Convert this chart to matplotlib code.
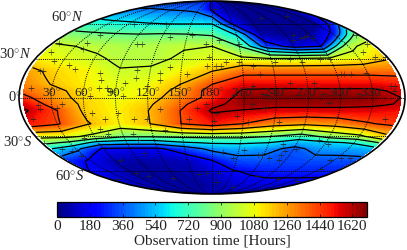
import numpy as np
import matplotlib
matplotlib.use("Agg")
import matplotlib.pyplot as plt

plt.rcParams['font.family'] = ['Liberation Serif', 'DejaVu Serif']
plt.rcParams['mathtext.fontset'] = 'custom'
plt.rcParams['mathtext.rm'] = 'Liberation Serif'
plt.rcParams['mathtext.it'] = 'Liberation Serif:italic'

lons = [4, 30, 60, 90, 120, 150, 180, 210, 240, 270, 300, 330, 356]
lats = [90, 75, 60, 50, 40, 30, 20, 10, 5, 0, -5, -10, -20, -30, -35, -40, -50, -60, -75, -90]

lat_p90 = [280, 280, 280, 280, 280, 250, 180, 60, 30, 25, 25, 30, 60]
lat_p75 = [420, 420, 410, 400, 390, 360, 180, 60, 25, 25, 25, 30, 60]
lat_p60 = [680, 650, 630, 610, 600, 600, 600, 180, 20, 20, 20, 40, 300]
lat_p50 = [860, 840, 820, 810, 820, 810, 780, 590, 70, 30, 30, 250, 850]
lat_p40 = [1040, 1000, 970, 950, 970, 990, 1000, 800, 300, 130, 200, 950, 1090]
lat_p30 = [1100, 1060, 1020, 970, 970, 1020, 1060, 1030, 1000, 1010, 1030, 1080, 1180]
lat_p20 = [1240, 1150, 1100, 1010, 1020, 1100, 1200, 1340, 1340, 1340, 1340, 1340, 1340]
lat_p10 = [1300, 1190, 1110, 1060, 1080, 1200, 1400, 1540, 1540, 1540, 1540, 1540, 1500]
lat_p05 = [1350, 1260, 1130, 1070, 1100, 1250, 1470, 1620, 1630, 1630, 1630, 1630, 1570]
lat_00 = [1450, 1280, 1150, 1080, 1120, 1300, 1450, 1680, 1695, 1695, 1695, 1680, 1600]
lat_m05 = [1550, 1340, 1170, 1090, 1170, 1350, 1560, 1660, 1650, 1650, 1650, 1630, 1590]
lat_m10 = [1620, 1440, 1170, 1100, 1200, 1400, 1620, 1590, 1550, 1550, 1550, 1550, 1520]
lat_m20 = [1500, 1420, 1210, 1100, 1200, 1400, 1500, 1400, 1280, 1240, 1280, 1380, 1440]
lat_m30 = [1050, 1050, 950, 820, 820, 840, 850, 850, 800, 700, 860, 950, 1150]
lat_m35 = [850, 760, 520, 480, 480, 580, 620, 620, 600, 500, 560, 620, 800]
lat_m40 = [600, 450, 180, 170, 170, 300, 450, 500, 460, 350, 470, 480, 520]
lat_m50 = [280, 180, 70, 60, 70, 90, 200, 330, 350, 330, 340, 340, 340]
lat_m60 = [200, 140, 50, 40, 50, 70, 120, 190, 230, 260, 260, 260, 260]
lat_m75 = [100, 90, 60, 50, 50, 50, 60, 90, 120, 130, 130, 130, 120]
lat_m90 = [70, 70, 70, 70, 70, 70, 70, 70, 70, 70, 70, 70, 70]

rows = [lat_p90, lat_p75, lat_p60, lat_p50, lat_p40, lat_p30, lat_p20, lat_p10, lat_p05, lat_00,
        lat_m05, lat_m10, lat_m20, lat_m30, lat_m35, lat_m40, lat_m50, lat_m60, lat_m75, lat_m90]

point_lon = [10, 21, 13, 16, 38, 46, 7, 40, 38, 42, 67, 113, 96, 102, 130, 155, 72, 75, 98, 108, 107,
             130, 131, 139, 156, 74, 82, 85, 66, 97, 119, 67, 91, 78, 35, 40, 17, 18, 9, 10, 131, 166,
             158, 118, 105, 188, 261, 310, 290, 285, 295, 280, 300, 274, 348, 357, 354, 339, 347, 357,
             300, 290, 270, 260, 243, 210, 188, 173, 177, 175, 184, 189, 194, 207, 220, 226, 304, 307,
             314, 329, 348, 352, 317, 284, 276, 254, 228, 219, 233, 217, 230, 289, 345, 350, 174, 185,
             182, 204, 215, 245, 70, 75, 100, 103, 133, 49, 23, 27, 3, 15, 67, 66, 15, 102, 78, 115,
             160, 193, 215, 205, 233, 255, 272, 262, 260, 262, 248, 291, 303, 325, 335, 345, 238, 331,
             252, 295, 337, 230, 190, 190, 173]
point_lat = [35, 28, 20, 20, 25, 22, 43, 38, 43, 50, 60, 60, 42, 42, 48, 50, 19, 13, 11, 15, 21,
             19, 13, 23, 18, 7, 7, 5, 1, 1, 9, -12, -12, -16, -8, -5, -6, -9, -16, 7, -9, -8,
             -16, -16, -16, 76, 66, 68, 48, 47, 49, 50, 47, 45, 60, 50, 42, 35, 31, 31,
             30, 30, 27, 30, 27, 42, 45, 42, 31, 24, 24, 24, 27, 27, 24, 18, 18, 18,
             18, 19, 9, 9, 3, 3, 11, 11, 3, 9, 0, -5, -8, -4, -16, 5, -5, -12,
             -18, -14, -19, -19, -24, -28, -28, -33, -25, -31, -42, -46, -35, -40, -50, -62, -68, -44, -65, -67,
             -63, -43, -41, -48, -45, -36, -40, -42, -45, -50, -48, -33, -36, -50, -48, -48, -45, -58,
             -65, -68, -70, -77, -72, -62, -62]

meridians = [30, 60, 90, 120, 150, 180, 210, 240, 270, 300, 330]
parallels = [-60, -30, 0, 30, 60]
cbar_ticks = [0, 180, 360, 540, 720, 900, 1080, 1260, 1440, 1620]
contour_levels = [200, 400, 600, 800, 1000, 1200, 1400, 1600]


def rad_lon(v):
    return np.radians(np.asarray(v, float) - 180.0)


W, H = 407, 250
fig = plt.figure(figsize=(W / 100, H / 100), dpi=100)
ax = fig.add_axes([19 / W, (H - 194) / H, 386 / W, 193 / H], projection='mollweide')
ax.grid(False)
ax.set_xticklabels([])
ax.set_yticklabels([])
ax.xaxis.set_ticks_position('none')
ax.yaxis.set_ticks_position('none')

Z = np.array(rows, float)
X, Y = np.meshgrid(rad_lon(lons), np.radians(np.clip(lats, -89.9, 89.9)))
fill = ax.contourf(X, Y, Z, levels=np.arange(0, 1701, 20), cmap='jet', vmin=0, vmax=1700,
                   antialiased=False)
ax.contour(X, Y, Z, levels=contour_levels, colors='k', linewidths=0.9)

for m in meridians:
    ax.plot(rad_lon([m, m]), np.radians([-88, 88]), color='k', lw=0.7, ls=(0, (1, 1.2)))
for p in parallels:
    ax.plot(rad_lon([0.5, 359.5]), np.radians([p, p]), color='k', lw=0.7, ls=(0, (1, 1.2)))

ax.plot(rad_lon(point_lon), np.radians(point_lat), ls='none', marker='+', color='#222222',
        ms=4, mew=0.45, alpha=0.8)

for spine in ax.spines.values():
    spine.set_linewidth(1.2)
    spine.set_edgecolor('k')

for m in meridians:
    ax.text(np.radians(m - 180), np.radians(3.0), f'${m}^{{\\circ}}$', ha='center', va='center',
            fontsize=9.5, color='#222222')

fig.text(22 / W, 1 - 97 / H, r'$0^{\circ}$', ha='right', va='center', fontsize=10.5, color='#222222')
fig.text(32 / W, 1 - 54 / H, r'$30^{\circ}N$', ha='right', va='center', fontsize=10.5, color='#222222')
fig.text(84 / W, 1 - 17 / H, r'$60^{\circ}N$', ha='right', va='center', fontsize=10.5, color='#222222')
fig.text(32 / W, 1 - 142 / H, r'$30^{\circ}S$', ha='right', va='center', fontsize=10.5, color='#222222')
fig.text(84 / W, 1 - 176 / H, r'$60^{\circ}S$', ha='right', va='center', fontsize=10.5, color='#222222')

cax = fig.add_axes([57 / W, (H - 217) / H, 310 / W, 15 / H])
cb = fig.colorbar(fill, cax=cax, orientation='horizontal', drawedges=False)
cb.set_ticks(cbar_ticks)
cb.set_ticklabels([str(t) for t in cbar_ticks])
cax.set_xlim(0, 1700)
cax.tick_params(axis='x', direction='in', length=2.5, width=0.5, top=True, labelsize=11,
                labelcolor='#222222', pad=2.5)
cb.outline.set_linewidth(0.9)
cb.set_label('Observation time [Hours]', fontsize=11, color='#222222', labelpad=0.5)

fig.savefig('out.png', dpi=100)
